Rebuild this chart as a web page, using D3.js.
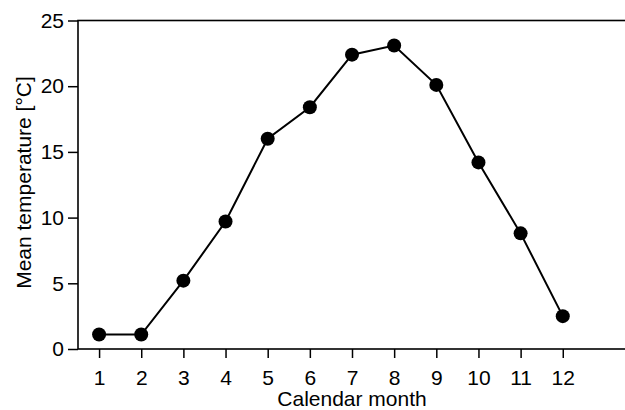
<!DOCTYPE html>
<html>
<head>
<meta charset="utf-8">
<script src="https://cdn.jsdelivr.net/npm/d3@7"></script>
<style>
  body { margin: 0; background: #fff; }
  svg text { font-family: "Liberation Sans", Arial, Helvetica, sans-serif; fill: #000; }
</style>
</head>
<body>
<div id="chart"></div>
<script>
// ----- dati: temperatura media mensile
var months = [1, 2, 3, 4, 5, 6, 7, 8, 9, 10, 11, 12];
var meanTemp = [1.1, 1.1, 5.2, 9.7, 16.0, 18.4, 22.4, 23.1, 20.1, 14.2, 8.8, 2.5];
var yTicks = [0, 5, 10, 15, 20, 25];
var xLabel = "Calendar month";
var yLabel = "Mean temperature [\u00b0C]";

var w = 625;
var h = 410;
var fontSize = '21px';

// ----- area del grafico (il bordo destro esce dall'immagine)
// niente "top" come nome: window.top e' in sola lettura
var plotL = 78, plotR = 626, plotT = 20.5, plotB = 349;

var svg = d3.select('#chart').append('svg')
    .attr('width', w)
    .attr('height', h);

var x = d3.scaleLinear().domain([0.5, 13.5]).range([plotL, plotR]);
var y = d3.scaleLinear().domain([0, 25]).range([plotB, plotT]);

// ----- cornice
svg.append('rect')
    .attr('x', plotL)
    .attr('y', plotT)
    .attr('width', plotR - plotL)
    .attr('height', plotB - plotT)
    .attr('fill', 'none')
    .attr('stroke', '#000')
    .attr('stroke-width', 1.6);

// ----- assi
var yAxis = svg.append('g')
    .attr('transform', 'translate(' + plotL + ',0)')
    .call(d3.axisLeft(y).tickValues(yTicks).tickSize(10).tickPadding(4));

var xAxis = svg.append('g')
    .attr('transform', 'translate(0,' + plotB + ')')
    .call(d3.axisBottom(x).tickValues(months).tickSize(9).tickPadding(12).tickFormat(d3.format('d')));

[xAxis, yAxis].forEach(function (g) {
    g.select('.domain').remove();
    g.selectAll('line').attr('stroke', '#000').attr('stroke-width', 1.5);
    g.selectAll('text').style('font-size', fontSize).attr('fill', '#000');
});

// ----- linea e punti
var line = d3.line()
    .x(function (d, i) { return x(months[i]); })
    .y(function (d) { return y(d); });

svg.append('path')
    .datum(meanTemp)
    .attr('d', line)
    .attr('fill', 'none')
    .attr('stroke', '#000')
    .attr('stroke-width', 2);

svg.selectAll('circle.pt').data(meanTemp)
    .enter().append('circle')
    .attr('class', 'pt')
    .attr('cx', function (d, i) { return x(months[i]); })
    .attr('cy', function (d) { return y(d); })
    .attr('r', 7)
    .attr('fill', '#000');

// ----- etichette
svg.append('text')
    .attr('x', (plotL + plotR) / 2)
    .attr('y', 406)
    .attr('text-anchor', 'middle')
    .style('font-size', fontSize)
    .text(xLabel);

svg.append('text')
    .attr('transform', 'translate(31,182.5) rotate(-90)')
    .attr('text-anchor', 'middle')
    .style('font-size', fontSize)
    .text(yLabel);
</script>
</body>
</html>
